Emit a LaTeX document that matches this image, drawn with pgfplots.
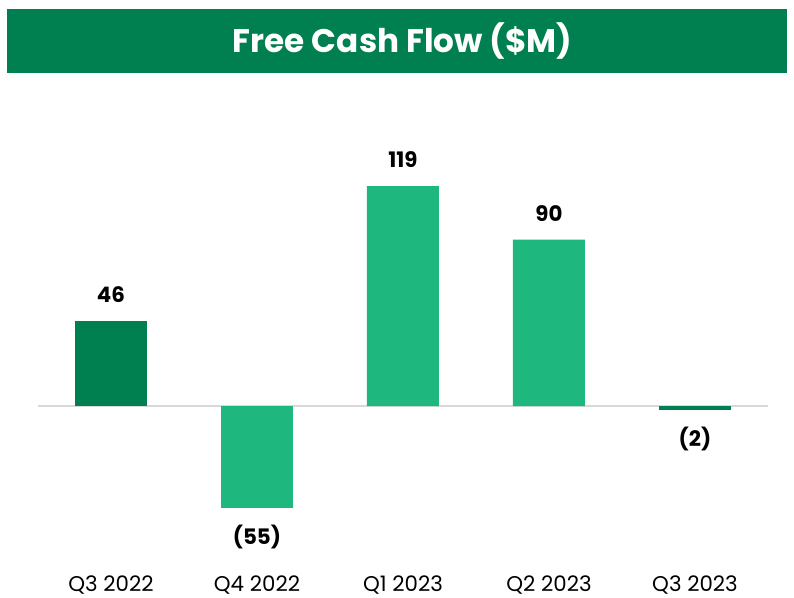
\documentclass[border=0pt]{standalone}
\usepackage{fontspec}
\setmainfont{Poppins}
\usepackage{pgfplots}
\pgfplotsset{compat=1.18}
\usepackage{pgfplotstable}
\definecolor{dkgreen}{HTML}{008050}
\definecolor{ltgreen}{HTML}{1EB77D}
\definecolor{zeroline}{HTML}{D9D9D9}

\pgfplotstableread{
x y lab
0 46 46
}\darkpos
\pgfplotstableread{
x y lab
4 -2 (2)
}\darkneg
\pgfplotstableread{
x y lab
2 119 119
3 90 90
}\lightpos
\pgfplotstableread{
x y lab
1 -55 (55)
}\lightneg

\begin{document}
\begin{tikzpicture}
\useasboundingbox (0,0) rectangle (595.5pt,448.5pt);
\fill[dkgreen] (5.25pt,393.75pt) rectangle (590.25pt,441.75pt);
\node[text=white,font=\fontsize{24.5}{28}\selectfont\bfseries] at (302pt,418pt) {Free Cash Flow (\$M)};
\begin{axis}[
  at={(28.5pt,19.2pt)}, anchor=south west,
  scale only axis, width=547.5pt, height=346.6pt,
  xmin=-0.5, xmax=4.5, ymin=-90, ymax=160,
  ybar, bar width=54pt,
  axis line style={draw=none},
  ytick=\empty,
  xtick={0,1,2,3,4},
  xticklabels={Q3 2022,Q4 2022,Q1 2023,Q2 2023,Q3 2023},
  major tick length=0pt,
  xticklabel style={font=\fontsize{16}{19}\selectfont, text=black, inner ysep=2.5pt},
  clip=false,
  point meta=explicit symbolic,
  pos/.style={nodes near coords, nodes near coords style={font=\fontsize{16}{19}\selectfont\bfseries, text=black, anchor=south, inner ysep=13.5pt}},
  neg/.style={nodes near coords, nodes near coords style={font=\fontsize{16}{19}\selectfont\bfseries, text=black, anchor=north, inner ysep=12.5pt}},
]
\addplot[forget plot, sharp plot, zeroline, line width=1.3pt] coordinates {(-0.5,0) (4.5,0)};
\addplot[ybar, bar shift=0pt, fill=dkgreen, draw=none, pos] table[x=x,y=y,meta=lab]{\darkpos};
\addplot[ybar, bar shift=0pt, fill=dkgreen, draw=none, neg] table[x=x,y=y,meta=lab]{\darkneg};
\addplot[ybar, bar shift=0pt, fill=ltgreen, draw=none, pos] table[x=x,y=y,meta=lab]{\lightpos};
\addplot[ybar, bar shift=0pt, fill=ltgreen, draw=none, neg] table[x=x,y=y,meta=lab]{\lightneg};
\end{axis}
\end{tikzpicture}
\end{document}
